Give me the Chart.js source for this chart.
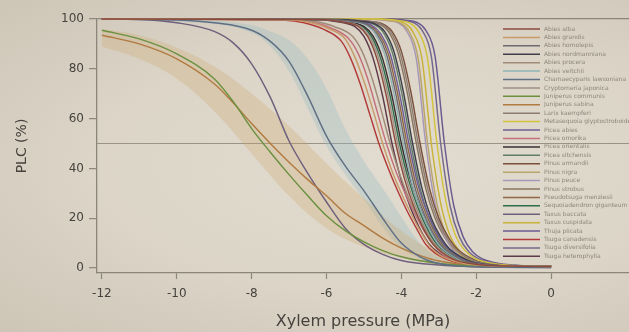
<!DOCTYPE html>
<html>
<head>
<meta charset="utf-8">
<script src="https://cdn.jsdelivr.net/npm/chart.js@4.4.1/dist/chart.umd.min.js"></script>
<style>
html, body { margin: 0; padding: 0; }
body {
        width: 629px; height: 332px; overflow: hidden;
        background: radial-gradient(ellipse at 62% 50%, #e2dcd0 0%, #dbd4c7 55%, #cdc5b6 100%);
}
#wrap { position: relative; width: 629px; height: 332px; }
#plc { filter: blur(0.35px); }
</style>
</head>
<body>
<div id="wrap"><canvas id="plc"></canvas></div>
<script>
// axis setup
var xMin = -12.13;
var xMax = 2.08;
var xTicks = [-12, -10, -8, -6, -4, -2, 0];
var yTicks = [0, 20, 40, 60, 80, 100];
var refLevel = 50;

var speciesNames = [
        "Abies alba", "Abies grandis", "Abies homolepis", "Abies nordmanniana",
        "Abies procera", "Abies veitchii", "Chamaecyparis lawsoniana", "Cryptomeria japonica",
        "Juniperus communis", "Juniperus sabina", "Larix kaempferi", "Metasequoia glyptostroboides",
        "Picea abies", "Picea omorika", "Picea orientalis", "Picea sitchensis",
        "Pinus armandii", "Pinus nigra", "Pinus peuce", "Pinus strobus",
        "Pseudotsuga menziesii", "Sequoiadendron giganteum", "Taxus baccata", "Taxus cuspidata",
        "Thuja plicata", "Tsuga canadensis", "Tsuga diversifolia", "Tsuga heterophylla"
];

// [xylem pressure (MPa), PLC (%)]
var abiesAlba = [[-12,100],[-6.15,99.8],[-5.65,99],[-5.15,97],[-4.9,93],[-4.65,84],[-4.4,69],[-4.15,50],[-3.9,35],[-3.65,24],[-3.4,15.5],[-3.15,9.5],[-2.65,3.8],[-2.15,1.8],[-1.65,1.0],[0,0.6]];
var abiesGrandis = [[-12,100],[-7.0,99.6],[-6.5,98.8],[-6.0,96.5],[-5.5,92],[-5.25,85],[-5.0,75],[-4.75,63],[-4.5,50],[-4.25,39],[-4.0,30],[-3.75,22],[-3.5,15],[-3.25,9],[-3.0,5.5],[-2.5,2.4],[-2.0,1.2],[0,0.6]];
var abiesHomolepis = [[-12,100],[-5.9,99.8],[-5.4,99.2],[-4.9,97.5],[-4.65,94],[-4.4,86],[-4.15,70],[-3.9,50],[-3.65,33],[-3.4,22],[-3.15,14],[-2.9,8.5],[-2.4,3.4],[-1.9,1.6],[-1.4,0.9],[0,0.6]];
var abiesNordmanniana = [[-12,100],[-5.7,99.8],[-5.2,99.3],[-4.7,98],[-4.45,95],[-4.2,87],[-3.95,71],[-3.7,50],[-3.45,32],[-3.2,20],[-2.95,12.5],[-2.7,7.5],[-2.2,3],[-1.7,1.4],[-1.2,0.8],[0,0.6]];
var abiesProcera = [[-12,100],[-6.8,99.7],[-6.3,99],[-5.8,97],[-5.3,93],[-5.05,87],[-4.8,77],[-4.55,64],[-4.3,50],[-4.05,38],[-3.8,28],[-3.55,20],[-3.3,13.5],[-3.05,8.5],[-2.8,5],[-2.3,2.2],[-1.8,1.1],[0,0.6]];
var abiesVeitchii = [[-12,100],[-5.95,99.8],[-5.45,99.2],[-4.95,97.5],[-4.7,94],[-4.45,86],[-4.2,70],[-3.95,50],[-3.7,33],[-3.45,22],[-3.2,14],[-2.95,8.5],[-2.45,3.4],[-1.95,1.6],[-1.45,0.9],[0,0.6]];
var chamaecyparis = [[-12,100],[-10,99.6],[-9,98.5],[-8,95.5],[-7.5,91],[-7,83],[-6.5,69],[-6,53],[-5.5,41],[-5,31],[-4.5,20],[-4,10],[-3.5,4.5],[-3,1.8],[-2,0.5],[0,0.2]];
var cryptomeria = [[-12,100],[-6.1,99.8],[-5.6,99],[-5.1,97],[-4.85,93],[-4.6,84],[-4.35,69],[-4.1,50],[-3.85,35],[-3.6,24],[-3.35,15.5],[-3.1,9.5],[-2.6,3.8],[-2.1,1.8],[-1.6,1.0],[0,0.6]];
var juniperusCommunis = [[-12,95.5],[-11,92],[-10,86],[-9,76],[-8.5,67],[-8,56],[-7.5,46.5],[-7,37.5],[-6.5,29],[-6,21],[-5.5,15],[-5,10.5],[-4.5,7],[-4,4.5],[-3,1.8],[-2,0.9],[0,0.4]];
var juniperusSabina = [[-12,93.5],[-11,90],[-10,84],[-9,74],[-8.5,66.5],[-8,58],[-7.5,50],[-7,42.5],[-6.5,35.5],[-6,29],[-5.5,22],[-5,17],[-4.5,12],[-4,8],[-3.5,5],[-3,2.8],[-2,1],[0,0.4]];
var larix = [[-12,100],[-5.55,99.8],[-5.05,99.3],[-4.55,98],[-4.3,95],[-4.05,87],[-3.8,71],[-3.55,50],[-3.3,32],[-3.05,20],[-2.8,12.5],[-2.55,7.5],[-2.05,3],[-1.55,1.4],[-1.05,0.8],[0,0.6]];
var metasequoia = [[-12,100],[-4.55,100],[-4.05,99.3],[-3.8,98.5],[-3.55,95],[-3.3,84],[-3.05,50],[-2.8,26],[-2.55,13],[-2.3,7],[-2.05,4],[-1.55,1.8],[-1.05,1.0],[0,0.6]];
var piceaAbies = [[-12,100],[-5.8,99.8],[-5.3,99.2],[-4.8,97.5],[-4.55,94],[-4.3,86],[-4.05,70],[-3.8,50],[-3.55,33],[-3.3,22],[-3.05,14],[-2.8,8.5],[-2.3,3.4],[-1.8,1.6],[-1.3,0.9],[0,0.6]];
var piceaOmorika = [[-12,100],[-6.9,99.6],[-6.4,98.8],[-5.9,96.5],[-5.4,92],[-5.15,86],[-4.9,76],[-4.65,63],[-4.4,50],[-4.15,39],[-3.9,30],[-3.65,22],[-3.4,15],[-3.15,9.5],[-2.9,5.5],[-2.4,2.3],[-1.9,1.2],[0,0.6]];
var piceaOrientalis = [[-12,100],[-6.0,99.8],[-5.5,99],[-5.0,97],[-4.75,93],[-4.5,84],[-4.25,69],[-4.0,50],[-3.75,35],[-3.5,24],[-3.25,15.5],[-3.0,9.5],[-2.5,3.8],[-2.0,1.8],[-1.5,1.0],[0,0.6]];
var piceaSitchensis = [[-12,100],[-5.75,99.8],[-5.25,99.3],[-4.75,98],[-4.5,95],[-4.25,87],[-4.0,71],[-3.75,50],[-3.5,32],[-3.25,20],[-3.0,12.5],[-2.75,7.5],[-2.25,3],[-1.75,1.4],[-1.25,0.8],[0,0.6]];
var pinusArmandii = [[-12,100],[-5.5,99.8],[-5.0,99.3],[-4.5,98],[-4.25,95],[-4.0,87],[-3.75,71],[-3.5,50],[-3.25,32],[-3.0,20],[-2.75,12.5],[-2.5,7.5],[-2.0,3],[-1.5,1.4],[-1.0,0.8],[0,0.6]];
var pinusNigra = [[-12,100],[-4.8,100],[-4.3,99.3],[-4.05,98.5],[-3.8,95],[-3.55,84],[-3.3,50],[-3.05,26],[-2.8,13],[-2.55,7],[-2.3,4],[-1.8,1.8],[-1.3,1.0],[0,0.6]];
var pinusPeuce = [[-12,100],[-4.85,100],[-4.35,99.3],[-4.1,98.5],[-3.85,95],[-3.6,84],[-3.35,50],[-3.1,26],[-2.85,13],[-2.6,7],[-2.35,4],[-1.85,1.8],[-1.35,1.0],[0,0.6]];
var pinusStrobus = [[-12,100],[-5.6,99.8],[-5.1,99.3],[-4.6,98],[-4.35,95],[-4.1,87],[-3.85,71],[-3.6,50],[-3.35,32],[-3.1,20],[-2.85,12.5],[-2.6,7.5],[-2.1,3],[-1.6,1.4],[-1.1,0.8],[0,0.6]];
var pseudotsuga = [[-12,100],[-5.85,99.8],[-5.35,99.2],[-4.85,97.5],[-4.6,94],[-4.35,86],[-4.1,70],[-3.85,50],[-3.6,33],[-3.35,22],[-3.1,14],[-2.85,8.5],[-2.35,3.4],[-1.85,1.6],[-1.35,0.9],[0,0.6]];
var sequoiadendron = [[-12,100],[-6.05,99.8],[-5.55,99],[-5.05,97],[-4.8,93],[-4.55,84],[-4.3,69],[-4.05,50],[-3.8,35],[-3.55,24],[-3.3,15.5],[-3.05,9.5],[-2.55,3.8],[-2.05,1.8],[-1.55,1.0],[0,0.6]];
var taxusBaccata = [[-12,100],[-11,99.8],[-10,98.5],[-9,95],[-8.5,90.5],[-8,82],[-7.5,68.5],[-7,51],[-6.5,38],[-6,26.5],[-5.5,16],[-5,9.5],[-4.5,5.5],[-4,3],[-3,1.2],[-2,0.5],[0,0.2]];
var taxusCuspidata = [[-12,100],[-4.7,100],[-4.2,99.3],[-3.95,98.5],[-3.7,95],[-3.45,84],[-3.2,50],[-2.95,26],[-2.7,13],[-2.45,7],[-2.2,4],[-1.7,1.8],[-1.2,1.0],[0,0.6]];
var thujaPlicata = [[-12,100],[-4.35,100],[-3.85,99.4],[-3.6,98.7],[-3.35,95.5],[-3.1,85],[-2.85,50],[-2.6,25],[-2.35,12.5],[-2.1,6.5],[-1.85,3.8],[-1.35,1.7],[-0.85,1.0],[0,0.6]];
var tsugaCanadensis = [[-12,100],[-7.1,99.5],[-6.6,98.5],[-6.1,96],[-5.6,91],[-5.35,84],[-5.1,74],[-4.85,62],[-4.6,50],[-4.35,40],[-4.1,31],[-3.85,23],[-3.6,16],[-3.35,9.5],[-3.1,6],[-2.6,2.5],[-2.1,1.3],[0,0.6]];
var tsugaDiversifolia = [[-12,100],[-4.45,100],[-3.95,99.4],[-3.7,98.7],[-3.45,95.5],[-3.2,85],[-2.95,50],[-2.7,25],[-2.45,12.5],[-2.2,6.5],[-1.95,3.8],[-1.45,1.7],[-0.95,1.0],[0,0.6]];
var tsugaHeterophylla = [[-12,100],[-6.25,99.8],[-5.75,99],[-5.25,97],[-5.0,93],[-4.75,84],[-4.5,69],[-4.25,50],[-4.0,35],[-3.75,24],[-3.5,15.5],[-3.25,9.5],[-2.75,3.8],[-2.25,1.8],[-1.75,1.0],[0,0.6]];

var speciesCurves = [
        abiesAlba, abiesGrandis, abiesHomolepis, abiesNordmanniana,
        abiesProcera, abiesVeitchii, chamaecyparis, cryptomeria,
        juniperusCommunis, juniperusSabina, larix, metasequoia,
        piceaAbies, piceaOmorika, piceaOrientalis, piceaSitchensis,
        pinusArmandii, pinusNigra, pinusPeuce, pinusStrobus,
        pseudotsuga, sequoiadendron, taxusBaccata, taxusCuspidata,
        thujaPlicata, tsugaCanadensis, tsugaDiversifolia, tsugaHeterophylla
];

// confidence bands (juniper pair and chamaecyparis)
var tanBandX = [-12, -11, -10, -9, -8, -7, -6, -5, -4, -3, -2, 0];
var tanBandUpper = [96, 93.5, 88.5, 81, 70, 57, 42, 28, 15, 6, 2, 0.4];
var tanBandLower = [89, 84, 76, 63, 46, 29, 16, 8.5, 4, 1.5, 0.5, 0.2];
var blueBandX = [-12, -9, -8, -7.5, -7, -6.5, -6, -5.5, -5, -4.5, -4, -3.5, -3, -2, 0];
var blueBandUpper = [100, 99.3, 97.5, 95, 91.5, 84, 72, 56, 43, 32, 20.5, 10, 4.3, 0.9, 0.3];
var blueBandLower = [100, 98, 94.5, 89, 79, 64, 49, 37.5, 27.5, 16.5, 8, 3.6, 1.4, 0.4, 0.2];

var speciesColors = [
        "#8b4a3c", "#c79a68", "#6d6a70", "#3f3d4a",
        "#a08a78", "#8fb3b5", "#5f6f84", "#9e8f86",
        "#6a9040", "#b07a40", "#8c7c72", "#d2c23c",
        "#6e5e96", "#c4707a", "#3a3034", "#5e7e68",
        "#7b4f3a", "#b9a56a", "#a797b8", "#8a7560",
        "#8e6846", "#2f6e4a", "#6e5f7c", "#c9b238",
        "#6a5a90", "#b23a3a", "#75688a", "#5c3a48"
];

var axisColor = "#8c857a";
var textColor = "#46423d";

function toPoints(xs, ys)
{
        var pts = [];
        for (var i = 0; i < xs.length; i++)
                pts.push({ x: xs[i], y: ys[i] });
        return pts;
}

function pairsToPoints(pairs)
{
        return pairs.map(function(p) { return { x: p[0], y: p[1] }; });
}

function bandDatasets(xs, upper, lower, color)
{
        var common = { pointRadius: 0, borderWidth: 0, tension: 0.4, order: 30 };
        return [
                Object.assign({ data: toPoints(xs, upper), fill: "+1", backgroundColor: color }, common),
                Object.assign({ data: toPoints(xs, lower), fill: false }, common)
        ];
}

var datasets = [];
datasets.push({
        data: [{ x: xMin, y: refLevel }, { x: xMax, y: refLevel }],
        borderColor: "#9b9385", borderWidth: 1.2, pointRadius: 0, order: 40
});
datasets = datasets.concat(bandDatasets(tanBandX, tanBandUpper, tanBandLower, "rgba(206,166,104,0.28)"));
datasets = datasets.concat(bandDatasets(blueBandX, blueBandUpper, blueBandLower, "rgba(150,188,196,0.32)"));

for (var i = 0; i < speciesCurves.length; i++)
{
        datasets.push({
                label: speciesNames[i],
                data: pairsToPoints(speciesCurves[i]),
                borderColor: speciesColors[i],
                borderWidth: 1.45,
                pointRadius: 0,
                fill: false,
                cubicInterpolationMode: "monotone",
                clip: 3,
                order: 1
        });
}

// legend drawn inside the plot, at the right
var speciesLegend = {
        id: "speciesLegend",
        afterDatasetsDraw: function(chart)
        {
                var ctx = chart.ctx;
                var area = chart.chartArea;
                var x0 = area.right - 126;
                ctx.save();
                ctx.font = '6px "DejaVu Sans", sans-serif';
                ctx.textBaseline = "middle";
                for (var i = 0; i < speciesNames.length; i++)
                {
                        var y = area.top + 10 + i * 8.42;
                        ctx.strokeStyle = speciesColors[i];
                        ctx.lineWidth = 1.5;
                        ctx.beginPath();
                        ctx.moveTo(x0, y);
                        ctx.lineTo(x0 + 37, y);
                        ctx.stroke();
                        ctx.fillStyle = "#8d867a";
                        ctx.fillText(speciesNames[i], x0 + 41, y);
                }
                ctx.restore();
        }
};

new Chart(document.getElementById("plc").getContext("2d"), {
        type: "line",
        data: { datasets: datasets },
        plugins: [speciesLegend],
        options: {
                responsive: true,
                maintainAspectRatio: false,
                animation: false,
                devicePixelRatio: 1,
                layout: { padding: { left: 0, right: 0, top: 19, bottom: 0 } },
                plugins: { legend: { display: false }, tooltip: { enabled: false } },
                scales: {
                        x: {
                                type: "linear",
                                min: xMin,
                                max: xMax,
                                afterBuildTicks: function(s) { s.ticks = xTicks.map(function(v) { return { value: v }; }); },
                                afterFit: function(s) { s.height = 59; },
                                grid: { drawOnChartArea: false, drawTicks: true, tickLength: 6, tickColor: axisColor, tickWidth: 1.2 },
                                border: { display: true, color: axisColor, width: 1.3 },
                                ticks: { color: textColor, padding: 8, font: { family: "DejaVu Sans", size: 12 }, maxRotation: 0 },
                                title: { display: true, text: "Xylem pressure (MPa)", color: textColor, padding: { top: 0, bottom: 1 }, font: { family: "DejaVu Sans", size: 16 } }
                        },
                        y: {
                                type: "linear",
                                min: -2,
                                max: 100,
                                afterBuildTicks: function(s) { s.ticks = yTicks.map(function(v) { return { value: v }; }); },
                                afterFit: function(s) { s.width = 97; },
                                grid: {
                                        drawOnChartArea: true,
                                        drawTicks: true,
                                        tickLength: 8,
                                        tickColor: axisColor,
                                        tickWidth: 1.2,
                                        lineWidth: 1.3,
                                        color: function(c) { return c.tick && c.tick.value === 100 ? axisColor : "rgba(0,0,0,0)"; }
                                },
                                border: { display: true, color: axisColor, width: 1.3 },
                                ticks: { color: textColor, padding: 5, font: { family: "DejaVu Sans", size: 12 } },
                                title: { display: true, text: "PLC (%)", color: textColor, padding: { top: 14, bottom: 0 }, font: { family: "DejaVu Sans", size: 14 } }
                        }
                }
        }
});
</script>
</body>
</html>
